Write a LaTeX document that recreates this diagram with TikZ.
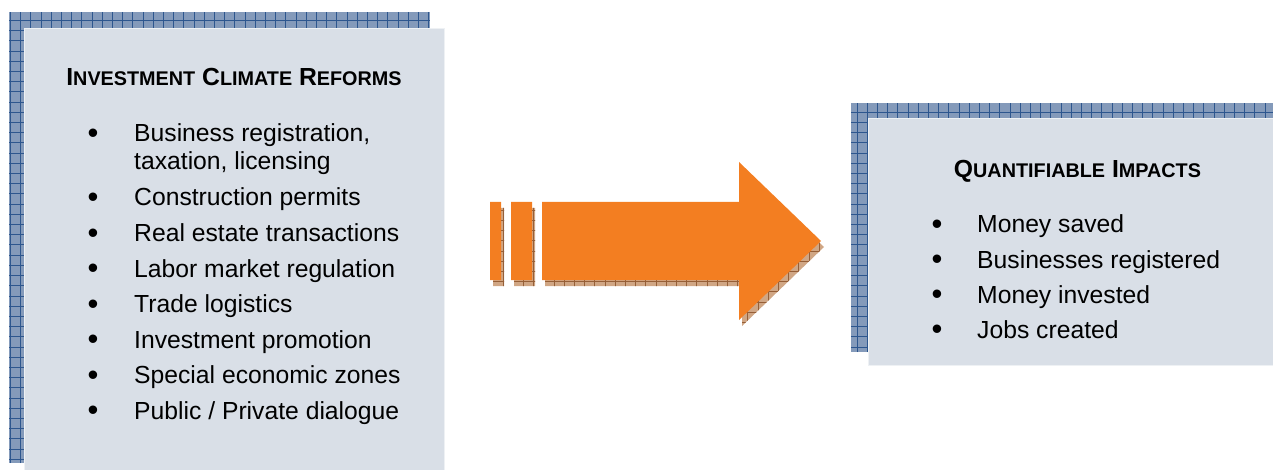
\documentclass[tikz,border=0pt]{standalone}
\usepackage{fontspec}
\setmainfont{Liberation Sans}
\usepackage{xcolor}
\definecolor{panelfill}{RGB}{217, 223, 231}
\definecolor{shadowblue}{RGB}{132, 154, 186}
\definecolor{gridblue}{RGB}{45, 86, 142}
\definecolor{arroworange}{RGB}{243, 126, 33}
\definecolor{shadowbrown}{RGB}{208, 166, 132}
\definecolor{gridbrown}{RGB}{150, 95, 55}
\usepackage{tikz}
\newcommand{\capword}[2]{#1{\fontsize{19.8}{24}\selectfont #2}}
\newcommand{\arrowpath}{(490,202) rectangle (501,280) (511,202) rectangle (532,280)
  (542,202) -- (739,202) -- (739,162) -- (821,241) -- (739,320) -- (739,280) -- (542,280) -- cycle}

\begin{document}
\begin{tikzpicture}[
  x=1pt, y=-1pt,
  panel/.style={fill=panelfill, draw=white!55!panelfill, line width=0.8pt},
  panelshadow/.style={fill=shadowblue},
  panelgrid/.style={draw=gridblue, line width=0.6pt},
  arrowface/.style={fill=arroworange},
  arrowshadow/.style={fill=shadowbrown},
  arrowgrid/.style={draw=gridbrown, line width=0.5pt},
  heading/.style={anchor=base, inner sep=0pt, font=\fontsize{24.7}{28}\selectfont\bfseries},
  item/.style={anchor=base west, inner sep=0pt, font=\fontsize{24.7}{28}\selectfont},
  dot/.style={anchor=base, inner sep=0pt, yshift=-1.8pt, font=\fontsize{31}{34}\selectfont}
]
  \useasboundingbox (0,0) rectangle (1273,470);
  \clip (0,0) rectangle (1273,470);

  % Left panel
  \fill[panelshadow] (9,12) rectangle (430,463);
  \begin{scope}
    \clip (9,12) rectangle (430,463);
    \draw[panelgrid, step=10.2pt] (9,463) grid (430,12);
  \end{scope}
  \path[panel] (24,28) rectangle (444,480);

  % Right panel
  \fill[panelshadow] (851,103) rectangle (1290,352);
  \begin{scope}
    \clip (851,103) rectangle (1290,352);
    \draw[panelgrid, step=10.2pt] (851,352) grid (1290,103);
  \end{scope}
  \path[panel] (868,118) rectangle (1287,365);

  % Arrow
  \begin{scope}[shift={(3,6)}]
    \fill[arrowshadow] \arrowpath;
    \clip \arrowpath;
    \draw[arrowgrid, step=10.2pt] (480,330) grid (830,155);
  \end{scope}
  \fill[arrowface] \arrowpath;

  % Headings
  \node[heading] (reforms) at (234,86) {\capword{I}{NVESTMENT} \capword{C}{LIMATE} \capword{R}{EFORMS}};
  \node[heading] (impacts) at (1077.5,178) {\capword{Q}{UANTIFIABLE} \capword{I}{MPACTS}};

  % Reform items
  \foreach \y/\txt [count=\i] in {142/{Business registration,}, 206/{Construction permits},
      241.5/{Real estate transactions}, 277/{Labor market regulation}, 312.5/{Trade logistics},
      348/{Investment promotion}, 383.5/{Special economic zones}, 419/{Public / Private dialogue}} {
    \node[dot] (rdot\i) at (93,\y) {\textbullet};
    \node[item] (ritem\i) at (134,\y) {\txt};
  }
  \node[item] (ritem1b) at (134,170) {taxation, licensing};

  % Impact items
  \foreach \y/\txt [count=\i] in {233/{Money saved}, 268/{Businesses registered},
      303/{Money invested}, 338/{Jobs created}} {
    \node[dot] (idot\i) at (937,\y) {\textbullet};
    \node[item] (iitem\i) at (977,\y) {\txt};
  }
\end{tikzpicture}
\end{document}
